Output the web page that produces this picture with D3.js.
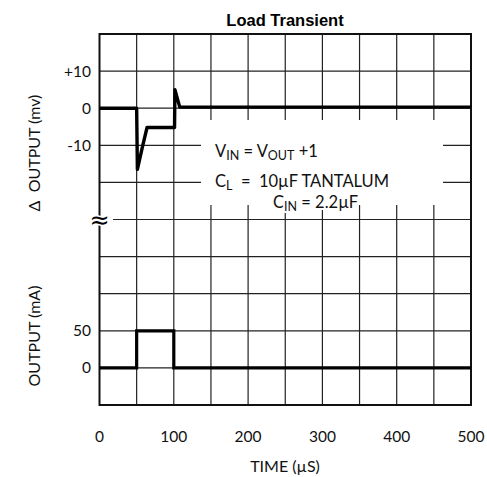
<!DOCTYPE html>
<html>
<head>
<meta charset="utf-8">
<script src="https://cdn.jsdelivr.net/npm/d3@7"></script>
<style>
  html, body { margin: 0; padding: 0; background: #fff; }
  svg { display: block; }
  .lbl { font-family: Lato, "Open Sans", sans-serif; fill: #111; }
</style>
</head>
<body>
<svg id="chart" width="487" height="477"></svg>
<script>
// Time axis (µs)
const timeTicks = [0, 100, 200, 300, 400, 500];
const timeGrid = [50, 100, 150, 200, 250, 300, 350, 400, 450];

// Upper panel: output voltage deviation (mV)
const mvTicks = [10, 0, -10];
const mvTickLabels = ["+10", "0", "-10"];
const mvGrid = [10, 0, -10, -20];
const transientTime = [0, 50, 51, 58, 64, 101, 101.5, 108, 500];
const transientMv   = [0, 0, -16.5, -10.2, -5.2, -5.2, 5, 0.3, 0.3];

// Lower panel: load current step (mA)
const maTicks = [50, 0];
const maTickLabels = ["50", "0"];
const maGrid = [150, 100, 50, 0];
const loadTime = [0, 50, 50, 100, 100, 500];
const loadMa   = [0, 0, 50, 50, 0, 0];

const NBSP = "\u00A0";

const svg = d3.select("#chart");
const plotL = 99.5, plotR = 471, plotT = 34, plotB = 405, plotMid = 219.5;

const x = d3.scaleLinear().domain([0, 500]).range([plotL, plotR]);
const yMv = d3.scaleLinear().domain([-30, 20]).range([plotMid, plotT]);
const yMa = d3.scaleLinear().domain([-50, 200]).range([plotB, plotMid]);

const grid = svg.append("g").attr("stroke", "#222").attr("stroke-width", 1.2);

// vertical grid lines
grid.selectAll("line.v").data(timeGrid).join("line")
  .attr("x1", d => x(d)).attr("x2", d => x(d))
  .attr("y1", plotT).attr("y2", plotB);

// horizontal grid lines, upper panel
grid.selectAll("line.hu").data(mvGrid).join("line")
  .attr("x1", plotL).attr("x2", plotR)
  .attr("y1", d => yMv(d)).attr("y2", d => yMv(d));

// horizontal grid lines, lower panel
grid.selectAll("line.hl").data(maGrid).join("line")
  .attr("x1", plotL).attr("x2", plotR)
  .attr("y1", d => yMa(d)).attr("y2", d => yMa(d));

// panel split line (starts after the break mark)
grid.append("line")
  .attr("x1", 113).attr("x2", plotR)
  .attr("y1", plotMid).attr("y2", plotMid);

// white backing behind the conditions note
svg.append("rect")
  .attr("x", 201).attr("y", 120).attr("width", 242).attr("height", 85)
  .attr("fill", "#fff");

// frame
svg.append("rect")
  .attr("x", plotL).attr("y", plotT)
  .attr("width", plotR - plotL).attr("height", plotB - plotT)
  .attr("fill", "none").attr("stroke", "#111").attr("stroke-width", 2);

// traces
const lineMv = d3.line().x((d, i) => x(transientTime[i])).y(d => yMv(d));
const lineMa = d3.line().x((d, i) => x(loadTime[i])).y(d => yMa(d));

svg.append("path").datum(transientMv)
  .attr("d", lineMv)
  .attr("fill", "none").attr("stroke", "#000")
  .attr("stroke-width", 3.4).attr("stroke-linejoin", "round");

svg.append("path").datum(loadMa)
  .attr("d", lineMa)
  .attr("fill", "none").attr("stroke", "#000")
  .attr("stroke-width", 3.2).attr("stroke-linejoin", "miter");

// axis break mark
svg.append("text")
  .attr("x", plotL).attr("y", plotMid + 8)
  .attr("text-anchor", "middle")
  .attr("font-family", "DejaVu Sans, sans-serif")
  .attr("font-size", 24)
  .attr("stroke", "#fff").attr("stroke-width", 3).attr("paint-order", "stroke")
  .attr("fill", "#000")
  .text("≈");

// title
svg.append("text")
  .attr("x", 285).attr("y", 26)
  .attr("text-anchor", "middle")
  .attr("font-family", "Liberation Sans, Arial, sans-serif")
  .attr("font-weight", "bold").attr("font-size", 16.5)
  .attr("fill", "#000")
  .text("Load Transient");

// y tick labels
svg.selectAll("text.mv").data(mvTicks).join("text")
  .attr("class", "lbl")
  .attr("x", 91).attr("y", d => yMv(d) + 5.5)
  .attr("text-anchor", "end").attr("font-size", 15.5)
  .text((d, i) => mvTickLabels[i]);

svg.selectAll("text.ma").data(maTicks).join("text")
  .attr("class", "lbl")
  .attr("x", 91).attr("y", d => yMa(d) + 5.5)
  .attr("text-anchor", "end").attr("font-size", 15.5)
  .text((d, i) => maTickLabels[i]);

// x tick labels
svg.selectAll("text.t").data(timeTicks).join("text")
  .attr("class", "lbl")
  .attr("x", d => x(d)).attr("y", 442)
  .attr("text-anchor", "middle").attr("font-size", 15.5)
  .text(d => d);

// axis titles
svg.append("text").attr("class", "lbl")
  .attr("x", 285).attr("y", 472)
  .attr("text-anchor", "middle").attr("font-size", 16)
  .text("TIME (µS)");

svg.append("text").attr("class", "lbl")
  .attr("transform", "translate(40,153) rotate(-90)")
  .attr("text-anchor", "middle").attr("font-size", 16)
  .text("Δ" + NBSP + " OUTPUT (mv)");

svg.append("text").attr("class", "lbl")
  .attr("transform", "translate(40,336) rotate(-90)")
  .attr("text-anchor", "middle").attr("font-size", 16)
  .text("OUTPUT (mA)");

// test conditions note
const note = svg.append("g").attr("class", "lbl").attr("font-size", 16.5);

const t1 = note.append("text").attr("x", 215).attr("y", 157);
t1.append("tspan").text("V");
t1.append("tspan").attr("font-size", 12.5).attr("dy", 3).text("IN");
t1.append("tspan").attr("dy", -3).text(" = V");
t1.append("tspan").attr("font-size", 12.5).attr("dy", 3).text("OUT");
t1.append("tspan").attr("dy", -3).text(" +1");

const t2 = note.append("text").attr("x", 215).attr("y", 187);
t2.append("tspan").text("C");
t2.append("tspan").attr("font-size", 12.5).attr("dy", 3).text("L");
t2.append("tspan").attr("dy", -3).text(NBSP + " =" + NBSP + " 10µF TANTALUM");

const t3 = note.append("text").attr("x", 273).attr("y", 208)
  .attr("stroke", "#fff").attr("stroke-width", 4).attr("paint-order", "stroke");
t3.append("tspan").text("C");
t3.append("tspan").attr("font-size", 12.5).attr("dy", 3).text("IN");
t3.append("tspan").attr("dy", -3).text(" = 2.2µF");
</script>
</body>
</html>
